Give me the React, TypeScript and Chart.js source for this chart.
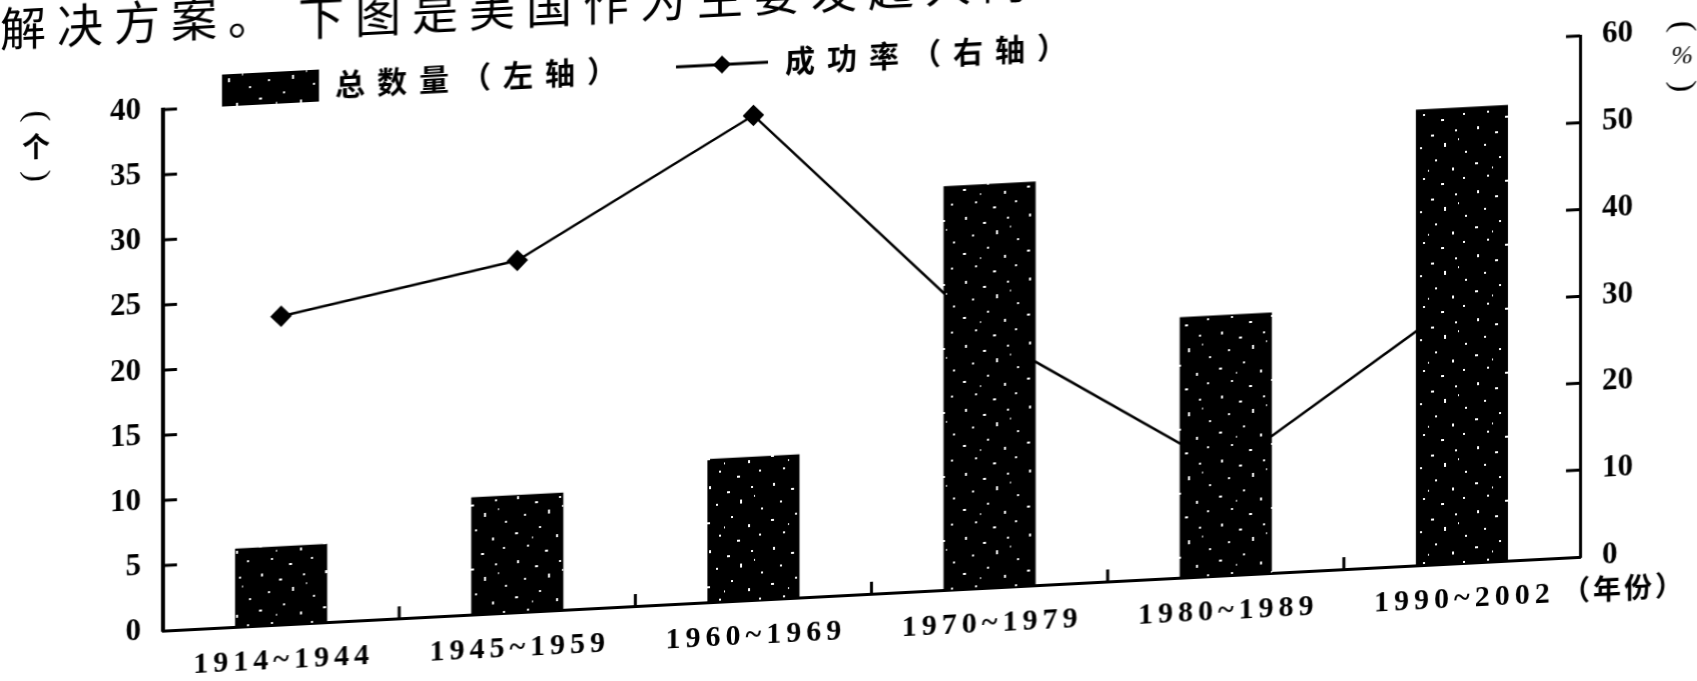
import React, { useEffect, useRef } from "react";
import { Chart, registerables } from "chart.js";

Chart.register(...registerables);

// ---------- data ----------
const categories = ["1914~1944", "1945~1959", "1960~1969", "1970~1979", "1980~1989", "1990~2002"];
const totalCounts = [6, 9, 11, 31, 20, 35];
const successRates = [35.5, 40.5, 55.8, 29, 12.2, 30.5];
const leftAxisMax = 40;
const leftAxisStep = 5;
const rightAxisMax = 60;
const rightAxisStep = 10;
const leftUnit = "个";
const rightUnit = "%";
const xUnitLabel = "（年份）";
const legendBarLabel = "总数量（左轴）";
const legendLineLabel = "成功率（右轴）";
const headerLeft = "解决方案。";
const headerRight = "下图是美国作为主要发起人的";

// ---------- layout ----------
const W = 1697;
const H = 681;
const OFF = 100;
const CH = H + 2 * OFF;
const SKEW_DEG = -2.98;
const AXIS_LEFT = 163;
const AXIS_RIGHT = 1580;
const AREA_TOP = 74;
const AREA_BOTTOM = 595;

function makePattern(): CanvasPattern | string {
  const c = document.createElement("canvas");
  c.width = 64;
  c.height = 64;
  const g = c.getContext("2d");
  if (!g) return "#000";
  g.fillStyle = "#000";
  g.fillRect(0, 0, 64, 64);
  g.fillStyle = "#fff";
  const specks = [
    [5, 3, 2, 3], [23, 9, 3, 2], [47, 5, 2, 2], [12, 21, 2, 2], [36, 18, 2, 4],
    [57, 27, 2, 2], [3, 39, 3, 2], [27, 34, 2, 2], [44, 43, 2, 3], [15, 52, 2, 2],
    [33, 58, 3, 2], [55, 53, 2, 2], [20, 44, 1, 2], [50, 14, 1, 2],
  ];
  specks.forEach(([x, y, w, h]) => g.fillRect(x, y, w, h));
  return g.createPattern(c, "repeat") || "#000";
}

function drawSpaced(ctx: CanvasRenderingContext2D, text: string, x: number, y: number, spacing: number, align: "left" | "center") {
  const chars = Array.from(text);
  const widths = chars.map((ch) => ctx.measureText(ch).width);
  const total = widths.reduce((a, b) => a + b, 0) + spacing * (chars.length - 1);
  let cx = align === "center" ? x - total / 2 : x;
  ctx.textAlign = "left";
  chars.forEach((ch, i) => {
    ctx.fillText(ch, cx, y);
    cx += widths[i] + spacing;
  });
}

function segment(ctx: CanvasRenderingContext2D, x1: number, y1: number, x2: number, y2: number) {
  ctx.beginPath();
  ctx.moveTo(x1, y1);
  ctx.lineTo(x2, y2);
  ctx.stroke();
}

function diamond(ctx: CanvasRenderingContext2D, x: number, y: number, r: number) {
  ctx.beginPath();
  ctx.moveTo(x, y - r);
  ctx.lineTo(x + r, y);
  ctx.lineTo(x, y + r);
  ctx.lineTo(x - r, y);
  ctx.closePath();
  ctx.fill();
}

function rotatedParen(ctx: CanvasRenderingContext2D, ch: string, x: number, y: number) {
  ctx.save();
  ctx.translate(x, y);
  ctx.rotate(Math.PI / 2);
  ctx.font = '34px "Liberation Serif"';
  ctx.textAlign = "center";
  ctx.textBaseline = "middle";
  ctx.fillText(ch, 0, 0);
  ctx.restore();
}

function verticalUnit(ctx: CanvasRenderingContext2D, unit: string, font: string, x: number, y: number) {
  rotatedParen(ctx, "(", x, y - 30);
  ctx.font = font;
  ctx.textAlign = "center";
  ctx.textBaseline = "middle";
  ctx.fillText(unit, x, y);
  rotatedParen(ctx, ")", x, y + 30);
}

export default function App() {
  const ref = useRef<HTMLCanvasElement | null>(null);

  useEffect(() => {
    const canvas = ref.current;
    if (!canvas) return;
    const pattern = makePattern();

    const decorPlugin = {
      id: "decor",
      afterDraw(chart: any) {
        const ctx: CanvasRenderingContext2D = chart.ctx;
        const { left, right, bottom } = chart.chartArea;
        const ys = chart.scales.y;
        const ys1 = chart.scales.y1;
        const xs = chart.scales.x;
        ctx.save();
        ctx.strokeStyle = "#000";
        ctx.fillStyle = "#000";
        ctx.lineWidth = 3;
        // inward ticks
        for (let v = leftAxisStep; v <= leftAxisMax; v += leftAxisStep) {
          const py = ys.getPixelForValue(v);
          segment(ctx, left, py, left + 14, py);
        }
        for (let v = rightAxisStep; v <= rightAxisMax; v += rightAxisStep) {
          const py = ys1.getPixelForValue(v);
          segment(ctx, right - 14, py, right, py);
        }
        for (let i = 0; i < categories.length - 1; i++) {
          const px = (xs.getPixelForValue(i) + xs.getPixelForValue(i + 1)) / 2;
          segment(ctx, px, bottom, px, bottom - 12);
        }
        // x labels
        ctx.textBaseline = "middle";
        ctx.font = 'bold 30px "Liberation Serif"';
        categories.forEach((c, i) => drawSpaced(ctx, c, xs.getPixelForValue(i), bottom + 36, 5, "center"));
        ctx.font = 'bold 28px "Noto Sans CJK SC"';
        drawSpaced(ctx, xUnitLabel, 1562, bottom + 33, 3, "left");
        // unit labels (vertical)
        verticalUnit(ctx, leftUnit, 'bold 28px "Noto Sans CJK SC"', 36, OFF + 104);
        verticalUnit(ctx, rightUnit, 'italic 26px "Liberation Serif"', 1682, OFF + 100);
        // legend
        const ly = OFF + 58;
        ctx.textBaseline = "middle";
        ctx.fillStyle = pattern as any;
        ctx.fillRect(222, ly - 16, 97, 32);
        ctx.fillStyle = "#000";
        ctx.font = 'bold 30px "Noto Sans CJK SC"';
        drawSpaced(ctx, legendBarLabel, 335, ly, 12, "left");
        ctx.lineWidth = 3;
        segment(ctx, 676, ly, 768, ly);
        diamond(ctx, 722, ly, 9);
        drawSpaced(ctx, legendLineLabel, 785, ly, 12, "left");
        // header text
        ctx.font = '46px "Noto Sans CJK SC"';
        drawSpaced(ctx, headerLeft, 0, OFF - 15, 11, "left");
        drawSpaced(ctx, headerRight, 298, OFF - 10, 11, "left");
        ctx.restore();
      },
    };

    const chart = new Chart(canvas, {
      type: "bar",
      data: {
        labels: categories,
        datasets: [
          {
            type: "line",
            label: legendLineLabel,
            data: successRates,
            yAxisID: "y1",
            borderColor: "#000",
            backgroundColor: "#000",
            borderWidth: 2.5,
            pointStyle: "rectRot",
            pointRadius: 9,
            pointBackgroundColor: "#000",
            pointBorderColor: "#000",
            tension: 0,
            order: 2,
          } as any,
          {
            type: "bar",
            label: legendBarLabel,
            data: totalCounts,
            yAxisID: "y",
            backgroundColor: pattern as any,
            borderWidth: 0,
            barPercentage: 0.39,
            categoryPercentage: 1,
            order: 1,
          },
        ],
      },
      options: {
        responsive: false,
        animation: false,
        layout: { padding: { top: AREA_TOP + OFF, left: 0, right: 0, bottom: 0 } },
        plugins: { legend: { display: false }, tooltip: { enabled: false } },
        scales: {
          x: {
            grid: { display: false, drawTicks: false },
            border: { display: true, color: "#000", width: 3 },
            ticks: { display: false },
            afterFit: (s: any) => {
              s.height = CH - (AREA_BOTTOM + OFF);
            },
          },
          y: {
            position: "left",
            min: 0,
            max: leftAxisMax,
            grid: { display: false, drawTicks: false },
            border: { display: true, color: "#000", width: 4 },
            ticks: {
              stepSize: leftAxisStep,
              color: "#000",
              padding: 22,
              font: { family: '"Liberation Serif"', size: 31, weight: "bold" },
            },
            afterFit: (s: any) => {
              s.width = AXIS_LEFT;
            },
          },
          y1: {
            position: "right",
            min: 0,
            max: rightAxisMax,
            grid: { display: false, drawTicks: false },
            border: { display: true, color: "#000", width: 3 },
            ticks: {
              stepSize: rightAxisStep,
              color: "#000",
              padding: 22,
              font: { family: '"Liberation Serif"', size: 31, weight: "bold" },
            },
            afterFit: (s: any) => {
              s.width = W - AXIS_RIGHT;
            },
          },
        },
      },
      plugins: [decorPlugin],
    });

    return () => chart.destroy();
  }, []);

  return (
    <div style={{ position: "fixed", left: 0, top: 0, width: W, height: H, overflow: "hidden", background: "#fff" }}>
      <canvas
        ref={ref}
        width={W}
        height={CH}
        style={{
          position: "absolute",
          left: 0,
          top: -OFF,
          width: W,
          height: CH,
          transform: `skewY(${SKEW_DEG}deg)`,
          transformOrigin: `848px ${OFF}px`,
        }}
      />
    </div>
  );
}
